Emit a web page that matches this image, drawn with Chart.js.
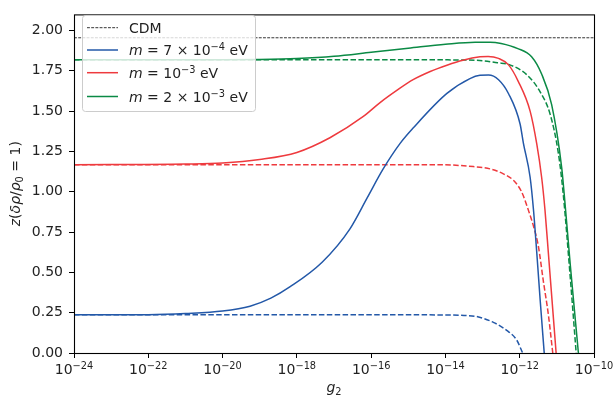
<!DOCTYPE html>
<html>
<head>
<meta charset="utf-8">
<script src="https://cdn.jsdelivr.net/npm/chart.js@4/dist/chart.umd.min.js"></script>
<style>
  html, body { margin: 0; padding: 0; background: #fff; }
  #wrap { width: 614px; height: 401px; }
</style>
</head>
<body>
<div id="wrap"><canvas id="chart" width="614" height="401"></canvas></div>
<script>
// tick positions
const xTickExps = [-24, -22, -20, -18, -16, -14, -12, -10];
const yTicks = [0, 0.25, 0.5, 0.75, 1.0, 1.25, 1.5, 1.75, 2.0];

// CDM reference level
const cdmExp = [-24, -10];
const cdmZ = [1.955, 1.955];

// m = 7e-4 eV  (x given as log10 g2)
const blueSolidExp = [-24, -22, -21, -20, -19.26, -18.7, -18.18, -17.32, -16.57, -16.1, -15.68, -15.22, -14.87, -13.96, -13.34, -13.07, -12.84, -12.57, -12.3, -11.99, -11.9, -11.72, -11.63, -11.54, -11.45, -11.34];
const blueSolidZ   = [0.237, 0.238, 0.245, 0.26, 0.29, 0.34, 0.411, 0.563, 0.77, 0.965, 1.14, 1.30, 1.395, 1.61, 1.702, 1.722, 1.724, 1.695, 1.608, 1.42, 1.30, 1.09, 0.89, 0.62, 0.33, 0];
const blueDashExp = [-24, -20, -16, -14, -13.5, -13.16, -12.71, -12.35, -12.08, -11.92];
const blueDashZ   = [0.237, 0.237, 0.237, 0.236, 0.233, 0.226, 0.19, 0.14, 0.08, 0];

// m = 1e-3 eV
const redSolidExp = [-24, -21, -20, -19, -18, -17.11, -16.21, -15.76, -15.3, -14.87, -14.41, -13.96, -13.53, -13.07, -12.85, -12.57, -12.3, -12.04, -11.72, -11.54, -11.41, -11.32, -11.23, -11.02];
const redSolidZ   = [1.168, 1.172, 1.178, 1.20, 1.244, 1.335, 1.467, 1.553, 1.63, 1.695, 1.746, 1.785, 1.816, 1.837, 1.839, 1.827, 1.787, 1.685, 1.50, 1.295, 1.09, 0.888, 0.624, 0];
const redDashExp = [-24, -20, -16, -14.15, -13.25, -12.8, -12.44, -12.17, -11.95, -11.77, -11.63, -11.5, -11.36, -11.23, -11.11];
const redDashZ   = [1.168, 1.168, 1.168, 1.168, 1.156, 1.142, 1.111, 1.071, 1.0, 0.888, 0.787, 0.665, 0.44, 0.24, 0];

// m = 2e-3 eV
const greenSolidExp = [-24, -20, -19, -18, -17, -16, -15, -14, -13.2, -12.8, -12.5, -12.05, -11.68, -11.41, -11.14, -10.87, -10.8, -10.64, -10.42];
const greenSolidZ   = [1.818, 1.818, 1.82, 1.826, 1.84, 1.865, 1.89, 1.915, 1.928, 1.928, 1.92, 1.888, 1.837, 1.73, 1.54, 1.15, 0.98, 0.55, 0];
const greenDashExp = [-24, -18, -14, -13.5, -13, -12.6, -12.3, -11.81, -11.45, -11.18, -10.96, -10.83, -10.65, -10.48];
const greenDashZ   = [1.818, 1.818, 1.818, 1.817, 1.813, 1.80, 1.79, 1.726, 1.62, 1.48, 1.24, 0.99, 0.5, 0];

const BLUE = '#2358a8';
const RED = '#ee3a3e';
const GREEN = '#0b8a45';
const FONT = "'DejaVu Sans'";

function pts(exps, zs) {
  return exps.map((e, i) => ({ x: Math.pow(10, e), y: zs[i] }));
}

function line(label, exps, zs, color, dash, width) {
  return {
    label: label,
    data: pts(exps, zs),
    borderColor: color,
    borderWidth: width || 1.5,
    borderDash: dash || [],
    pointRadius: 0,
    fill: false,
    cubicInterpolationMode: 'monotone'
  };
}

// draw a list of text runs [text, size, italic, dy] starting at x
function runs(ctx, parts, x, y) {
  let cx = x;
  parts.forEach(p => {
    ctx.font = (p[2] ? 'italic ' : '') + p[1] + 'px ' + FONT;
    ctx.fillText(p[0], cx, y + (p[3] || 0));
    cx += ctx.measureText(p[0]).width;
  });
  return cx - x;
}
function runsWidth(ctx, parts) {
  let w = 0;
  parts.forEach(p => {
    ctx.font = (p[2] ? 'italic ' : '') + p[1] + 'px ' + FONT;
    w += ctx.measureText(p[0]).width;
  });
  return w;
}

const DASHED = [5.5, 2.4];
const DOTTED = [2.9, 1.3];

const decorations = {
  id: 'decorations',
  afterDraw(chart) {
    const ctx = chart.ctx;
    const a = chart.chartArea;
    const xs = chart.scales.x;
    ctx.save();

    // spines
    ctx.strokeStyle = '#000';
    ctx.lineWidth = 1.1;
    ctx.strokeRect(a.left + 0.5, a.top + 0.5, a.right - a.left, a.bottom - a.top);

    // x tick labels 10^n
    ctx.fillStyle = '#222';
    ctx.textBaseline = 'alphabetic';
    ctx.textAlign = 'left';
    xTickExps.forEach(e => {
      const px = xs.getPixelForValue(Math.pow(10, e));
      const parts = [['10', 14, false, 0], ['\u2212' + Math.abs(e), 9.8, false, -5]];
      const w = runsWidth(ctx, parts);
      runs(ctx, parts, px - w / 2, 374);
    });

    // x label
    const xl = [['g', 14, true, 0], ['2', 9.8, false, 3]];
    const xw = runsWidth(ctx, xl);
    runs(ctx, xl, (a.left + a.right) / 2 - xw / 2, 392);

    // y label
    const yl = [['z', 14, true, 0], ['(', 14, false, 0], ['\u03b4\u03c1', 14, true, 0], ['/', 14, false, 0],
                ['\u03c1', 14, true, 0], ['0', 9.8, false, 3], [' = 1)', 14, false, 0]];
    const yw = runsWidth(ctx, yl);
    ctx.save();
    ctx.translate(20, (a.top + a.bottom) / 2);
    ctx.rotate(-Math.PI / 2);
    runs(ctx, yl, -yw / 2, 0);
    ctx.restore();

    // legend box
    const lx = 82, ly = 15, lw = 173, lh = 96;
    ctx.fillStyle = 'rgba(255,255,255,0.8)';
    ctx.strokeStyle = '#cccccc';
    ctx.lineWidth = 1;
    ctx.beginPath();
    ctx.roundRect(lx + 0.5, ly + 0.5, lw, lh, 3);
    ctx.fill();
    ctx.stroke();

    const rows = [
      { y: 27.7, color: '#000', width: 0.8, dash: DOTTED, text: [['CDM', 14, false, 0]] },
      { y: 50, color: BLUE, width: 1.5, dash: [], text: [['m', 14, true, 0], [' = 7 \u00d7 10', 14, false, 0], ['\u22124', 9.8, false, -5], [' eV', 14, false, 0]] },
      { y: 72.7, color: RED, width: 1.5, dash: [], text: [['m', 14, true, 0], [' = 10', 14, false, 0], ['\u22123', 9.8, false, -5], [' eV', 14, false, 0]] },
      { y: 96.5, color: GREEN, width: 1.5, dash: [], text: [['m', 14, true, 0], [' = 2 \u00d7 10', 14, false, 0], ['\u22123', 9.8, false, -5], [' eV', 14, false, 0]] }
    ];
    rows.forEach(r => {
      ctx.strokeStyle = r.color;
      ctx.lineWidth = r.width;
      ctx.setLineDash(r.dash);
      ctx.beginPath();
      ctx.moveTo(87, r.y);
      ctx.lineTo(118, r.y);
      ctx.stroke();
      ctx.setLineDash([]);
      ctx.fillStyle = '#222';
      runs(ctx, r.text, 129, r.y + 5);
    });

    ctx.restore();
  }
};

new Chart(document.getElementById('chart'), {
  type: 'line',
  data: {
    datasets: [
      line('CDM', cdmExp, cdmZ, '#000', DOTTED, 0.8),
      line('m = 7e-4 eV', blueSolidExp, blueSolidZ, BLUE),
      line('m = 7e-4 eV (dashed)', blueDashExp, blueDashZ, BLUE, DASHED),
      line('m = 1e-3 eV', redSolidExp, redSolidZ, RED),
      line('m = 1e-3 eV (dashed)', redDashExp, redDashZ, RED, DASHED),
      line('m = 2e-3 eV', greenSolidExp, greenSolidZ, GREEN),
      line('m = 2e-3 eV (dashed)', greenDashExp, greenDashZ, GREEN, DASHED)
    ]
  },
  options: {
    responsive: false,
    animation: false,
    devicePixelRatio: 1,
    layout: { padding: { left: 0, top: 8, right: 20, bottom: 0 } },
    plugins: { legend: { display: false }, tooltip: { enabled: false } },
    scales: {
      x: {
        type: 'logarithmic',
        min: 1e-24,
        max: 1e-10,
        afterBuildTicks(scale) {
          scale.ticks = xTickExps.map(e => ({ value: Math.pow(10, e) }));
        },
        afterFit(scale) { scale.height = 48; },
        ticks: { autoSkip: false, maxRotation: 0, callback: () => '' },
        grid: { drawOnChartArea: false, drawTicks: true, tickLength: 5, color: '#000', tickColor: '#000', tickWidth: 1 },
        border: { display: false }
      },
      y: {
        type: 'linear',
        min: 0,
        max: 2.1,
        afterBuildTicks(scale) {
          scale.ticks = yTicks.map(v => ({ value: v }));
        },
        afterFit(scale) { scale.width = 74; },
        ticks: {
          padding: 6,
          color: '#222',
          font: { family: 'DejaVu Sans', size: 14 },
          callback: v => Number(v).toFixed(2)
        },
        grid: { drawOnChartArea: false, drawTicks: true, tickLength: 5, color: '#000', tickColor: '#000', tickWidth: 1 },
        border: { display: false }
      }
    }
  },
  plugins: [decorations]
});
</script>
</body>
</html>
